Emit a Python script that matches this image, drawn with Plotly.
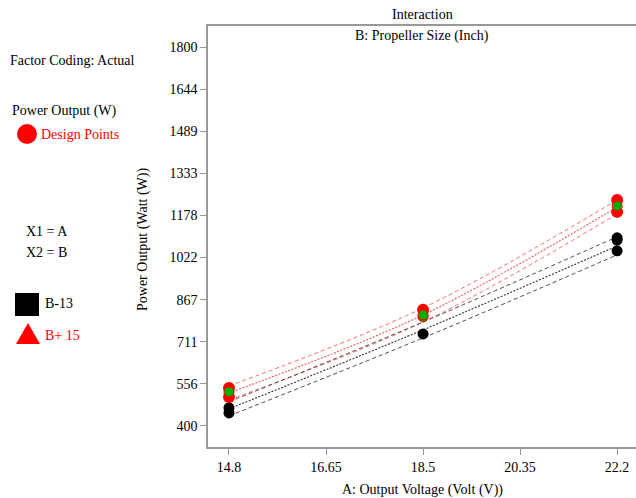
import plotly.graph_objects as go

# ---- data ----
voltage = [14.8, 18.5, 22.2]
x_ticks = [14.8, 16.65, 18.5, 20.35, 22.2]
x_tick_labels = ["14.8", "16.65", "18.5", "20.35", "22.2"]
y_ticks = [400, 555.56, 711.11, 866.67, 1022.22, 1177.78, 1333.33, 1488.89, 1644.44, 1800]
y_tick_labels = ["400", "556", "711", "867", "1022", "1178", "1333", "1489", "1644", "1800"]

# predicted lines and 95% CI bands
red_mid = [522, 810, 1209]
red_up = [548, 836, 1235]
red_lo = [496, 784, 1183]
blk_mid = [463, 755, 1065]
blk_up = [489, 784, 1099]
blk_lo = [437, 725, 1032]

# design points
red_pts_x = [14.8, 14.8, 18.5, 22.2, 22.2]
red_pts_y = [540, 507, 829, 1235, 1191]
green_pts_x = [14.8, 18.5, 18.5, 22.2]
green_pts_y = [526, 803, 810, 1213]
blk_pts_x = [14.8, 14.8, 18.5, 22.2, 22.2, 22.2]
blk_pts_y = [467, 448, 740, 1095, 1087, 1047]

RED = "#ff0000"
LRED = "#f05a5a"
GREEN = "#00b000"
FONT = "Liberation Serif, Times New Roman, Times, serif"

fig = go.Figure()

def add_line(y, color, dash, width):
    fig.add_trace(go.Scatter(x=voltage, y=y, mode="lines",
                             line=dict(color=color, dash=dash, width=width, shape="spline"),
                             hoverinfo="skip", showlegend=False))

add_line(red_up, LRED, "4px,3px", 0.9)
add_line(red_mid, LRED, "2px,1.5px", 1.1)
add_line(red_lo, LRED, "4px,3px", 0.9)
add_line(blk_up, "#333333", "4px,3px", 0.9)
add_line(blk_mid, "#333333", "2px,1.5px", 1.1)
add_line(blk_lo, "#333333", "4px,3px", 0.9)

fig.add_trace(go.Scatter(x=blk_pts_x, y=blk_pts_y, mode="markers",
                         marker=dict(color="black", size=11, line=dict(width=0)), showlegend=False))
fig.add_trace(go.Scatter(x=red_pts_x, y=red_pts_y, mode="markers",
                         marker=dict(color=RED, size=12, line=dict(width=0)), showlegend=False))
fig.add_trace(go.Scatter(x=green_pts_x, y=green_pts_y, mode="markers",
                         marker=dict(color=GREEN, size=10, line=dict(color=RED, width=1)), showlegend=False))

def px(x):
    return (x - 208) / 428

def py(y):
    return (447 - y) / 421

ann = []
def text(t, x, y, color="black", size=14, xanchor="left", angle=0):
    ann.append(dict(text=t, x=px(x), y=py(y), xref="paper", yref="paper",
                    xanchor=xanchor, yanchor="middle", showarrow=False, textangle=angle,
                    font=dict(family=FONT, size=size, color=color)))

text("Factor Coding: Actual", 8, 60)
text("Power Output (W)", 10, 111)
text("Design Points", 39, 134, color=RED)
text("X1 = A", 24, 232)
text("X2 = B", 24, 252)
text("B-13", 43, 303)
text("B+ 15", 43, 335, color=RED)
text("Interaction", 422, 15, xanchor="center")
text("B: Propeller Size (Inch)", 422, 36, xanchor="center")
text("Power Output (Watt (W))", 143, 240, xanchor="center", angle=-90)
text("A: Output Voltage (Volt (V))", 422, 490, xanchor="center")

shapes = [
    dict(type="circle", xref="paper", yref="paper", x0=px(17), x1=px(37), y0=py(144), y1=py(124),
         fillcolor=RED, line=dict(width=0)),
    dict(type="rect", xref="paper", yref="paper", x0=px(15), x1=px(39), y0=py(316), y1=py(293),
         fillcolor="black", line=dict(width=0)),
    dict(type="path", xref="paper", yref="paper",
         path=f"M {px(16)} {py(344)} L {px(40)} {py(344)} L {px(28)} {py(323)} Z",
         fillcolor=RED, line=dict(width=0)),
]

fig.update_layout(
    width=636, height=498,
    margin=dict(l=208, r=0, t=26, b=51),
    paper_bgcolor="white", plot_bgcolor="white",
    font=dict(family=FONT, size=14, color="black"),
    showlegend=False,
    annotations=ann, shapes=shapes,
    xaxis=dict(range=[14.4, 22.56], tickvals=x_ticks, ticktext=x_tick_labels,
               showgrid=False, zeroline=False, showline=True, linecolor="#999999", linewidth=1.5,
               mirror=True, ticks="outside", ticklen=6, tickcolor="#999999",
               tickfont=dict(family=FONT, size=14, color="black")),
    yaxis=dict(range=[322, 1878], tickvals=y_ticks, ticktext=y_tick_labels,
               showgrid=False, zeroline=False, showline=True, linecolor="#999999", linewidth=1.5,
               ticks="outside", ticklen=6, tickcolor="#999999",
               tickfont=dict(family=FONT, size=14, color="black")),
)

fig.write_html("out.html", config={"displayModeBar": False},
               post_script="document.body.style.margin='0';document.body.style.overflow='hidden';")
